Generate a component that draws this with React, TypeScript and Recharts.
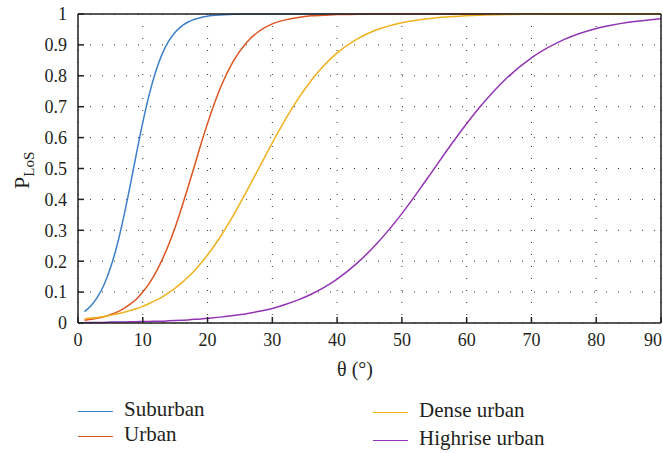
import React from 'react';
import { LineChart, Line, XAxis, YAxis, CartesianGrid } from 'recharts';

// elevation angle (deg) sample points
const theta = [
  1, 2, 3, 4, 5, 6, 7, 8, 9, 10, 11, 12, 13, 14, 15, 16, 17, 18, 19, 20,
  22, 24, 26, 28, 30, 32, 34, 36, 38, 40, 43, 46, 50, 54, 58, 62, 66, 70,
  75, 80, 85, 90,
];

const suburban = [
  0.037, 0.056, 0.084, 0.123, 0.178, 0.249, 0.338, 0.439, 0.546, 0.649,
  0.74, 0.814, 0.871, 0.912, 0.941, 0.961, 0.974, 0.983, 0.989, 0.993,
  0.997, 0.999, 1, 1, 1, 1, 1, 1, 1, 1, 1, 1, 1, 1, 1, 1, 1, 1, 1, 1, 1, 1,
];

const urban = [
  0.009, 0.012, 0.015, 0.02, 0.027, 0.035, 0.046, 0.06, 0.077, 0.1,
  0.128, 0.163, 0.205, 0.254, 0.31, 0.373, 0.441, 0.51, 0.58, 0.646,
  0.762, 0.848, 0.907, 0.945, 0.968, 0.981, 0.989, 0.994, 0.996, 0.998,
  0.999, 1, 1, 1, 1, 1, 1, 1, 1, 1, 1, 1,
];

const denseUrban = [
  0.013, 0.016, 0.018, 0.021, 0.025, 0.029, 0.034, 0.04, 0.046, 0.054,
  0.063, 0.073, 0.084, 0.098, 0.113, 0.13, 0.149, 0.17, 0.194, 0.22,
  0.28, 0.349, 0.425, 0.504, 0.583, 0.658, 0.726, 0.785, 0.834, 0.874,
  0.918, 0.948, 0.972, 0.985, 0.992, 0.996, 0.998, 0.999, 1, 1, 1, 1,
];

const highriseUrban = [
  0.002, 0.002, 0.002, 0.002, 0.003, 0.003, 0.003, 0.004, 0.004, 0.005,
  0.005, 0.006, 0.006, 0.007, 0.008, 0.009, 0.01, 0.012, 0.013, 0.015,
  0.019, 0.024, 0.03, 0.038, 0.047, 0.06, 0.075, 0.093, 0.115, 0.142,
  0.192, 0.254, 0.354, 0.47, 0.589, 0.698, 0.789, 0.858, 0.917, 0.953,
  0.973, 0.985,
];

const xTicks = [0, 10, 20, 30, 40, 50, 60, 70, 80, 90];
const yTicks = [0, 0.1, 0.2, 0.3, 0.4, 0.5, 0.6, 0.7, 0.8, 0.9, 1];
const yTickLabels = ['0', '0.1', '0.2', '0.3', '0.4', '0.5', '0.6', '0.7', '0.8', '0.9', '1'];

const series = [
  { key: 'suburban', name: 'Suburban', color: '#3d7fc8', values: suburban },
  { key: 'urban', name: 'Urban', color: '#dd5520', values: urban },
  { key: 'denseUrban', name: 'Dense urban', color: '#efb11c', values: denseUrban },
  { key: 'highriseUrban', name: 'Highrise urban', color: '#9233b5', values: highriseUrban },
];

const data = theta.map((t, i) => {
  const row: Record<string, number> = { theta: t };
  series.forEach((s) => {
    row[s.key] = s.values[i];
  });
  return row;
});

const FONT = "'Liberation Serif', 'Times New Roman', serif";
const INK = '#231f20';
const axisStroke = { stroke: INK, strokeWidth: 1.5 };

// legend slots: [left of the line, vertical centre]
const legendSlots = [
  { left: 78, top: 411 },
  { left: 78, top: 436 },
  { left: 373, top: 412 },
  { left: 373, top: 440 },
];

const XTick = (props: any) => {
  const { x, y, payload } = props;
  // keep the last label inside the picture
  const last = payload.value === xTicks[xTicks.length - 1];
  return (
    <text
      x={last ? 662 : x}
      y={y}
      dy="0.71em"
      textAnchor={last ? 'end' : 'middle'}
      fill={INK}
      fontFamily={FONT}
      fontSize={18}
    >
      {payload.value}
    </text>
  );
};

const YLabel = () => (
  <text
    transform="translate(29, 189) rotate(-90)"
    fill={INK}
    fontFamily={FONT}
    fontSize={22}
  >
    P
    <tspan fontSize={15} dy={5}>
      LoS
    </tspan>
  </text>
);

const XLabel = () => (
  <text x={355} y={376} textAnchor="middle" fill={INK} fontFamily={FONT} fontSize={20}>
    θ (°)
  </text>
);

export default function App() {
  return (
    <div
      style={{
        position: 'absolute',
        left: 0,
        top: 0,
        width: 663,
        height: 453,
        background: '#fff',
      }}
    >
      <LineChart
        width={663}
        height={453}
        data={data}
        margin={{ top: 0, right: 0, left: 0, bottom: 80 }}
      >
        <CartesianGrid stroke="#333" strokeDasharray="1 11" />
        <XAxis
          dataKey="theta"
          type="number"
          domain={[0, 90]}
          ticks={xTicks}
          interval={0}
          height={50}
          tickSize={-6}
          tickMargin={16}
          axisLine={axisStroke}
          tickLine={axisStroke}
          tick={<XTick />}
          label={<XLabel />}
        />
        <XAxis
          xAxisId="top"
          orientation="top"
          dataKey="theta"
          type="number"
          domain={[0, 90]}
          ticks={xTicks}
          height={14}
          tickSize={-6}
          axisLine={axisStroke}
          tickLine={axisStroke}
          tick={false}
        />
        <YAxis
          type="number"
          domain={[0, 1]}
          ticks={yTicks}
          interval={0}
          width={78}
          tickSize={-6}
          tickMargin={17}
          axisLine={axisStroke}
          tickLine={axisStroke}
          tick={{ fill: INK, fontSize: 18, fontFamily: FONT }}
          tickFormatter={(v: number) => yTickLabels[yTicks.indexOf(v)] ?? String(v)}
          label={<YLabel />}
        />
        <YAxis
          yAxisId="right"
          orientation="right"
          type="number"
          domain={[0, 1]}
          ticks={yTicks}
          width={2}
          tickSize={-6}
          axisLine={axisStroke}
          tickLine={axisStroke}
          tick={false}
        />
        {series.map((s) => (
          <Line
            key={s.key}
            type="monotone"
            dataKey={s.key}
            name={s.name}
            stroke={s.color}
            strokeWidth={1.5}
            dot={false}
            isAnimationActive={false}
          />
        ))}
      </LineChart>

      {series.map((s, i) => (
        <div
          key={s.key}
          style={{
            position: 'absolute',
            left: legendSlots[i].left,
            top: legendSlots[i].top - 13,
            height: 26,
            display: 'flex',
            alignItems: 'center',
            fontFamily: FONT,
            fontSize: 21,
            color: INK,
            whiteSpace: 'nowrap',
          }}
        >
          <span
            style={{
              display: 'inline-block',
              width: 35,
              borderTop: `1.5px solid ${s.color}`,
              marginRight: 11,
            }}
          />
          <span style={{ lineHeight: '26px', position: 'relative', top: -2 }}>{s.name}</span>
        </div>
      ))}
    </div>
  );
}
